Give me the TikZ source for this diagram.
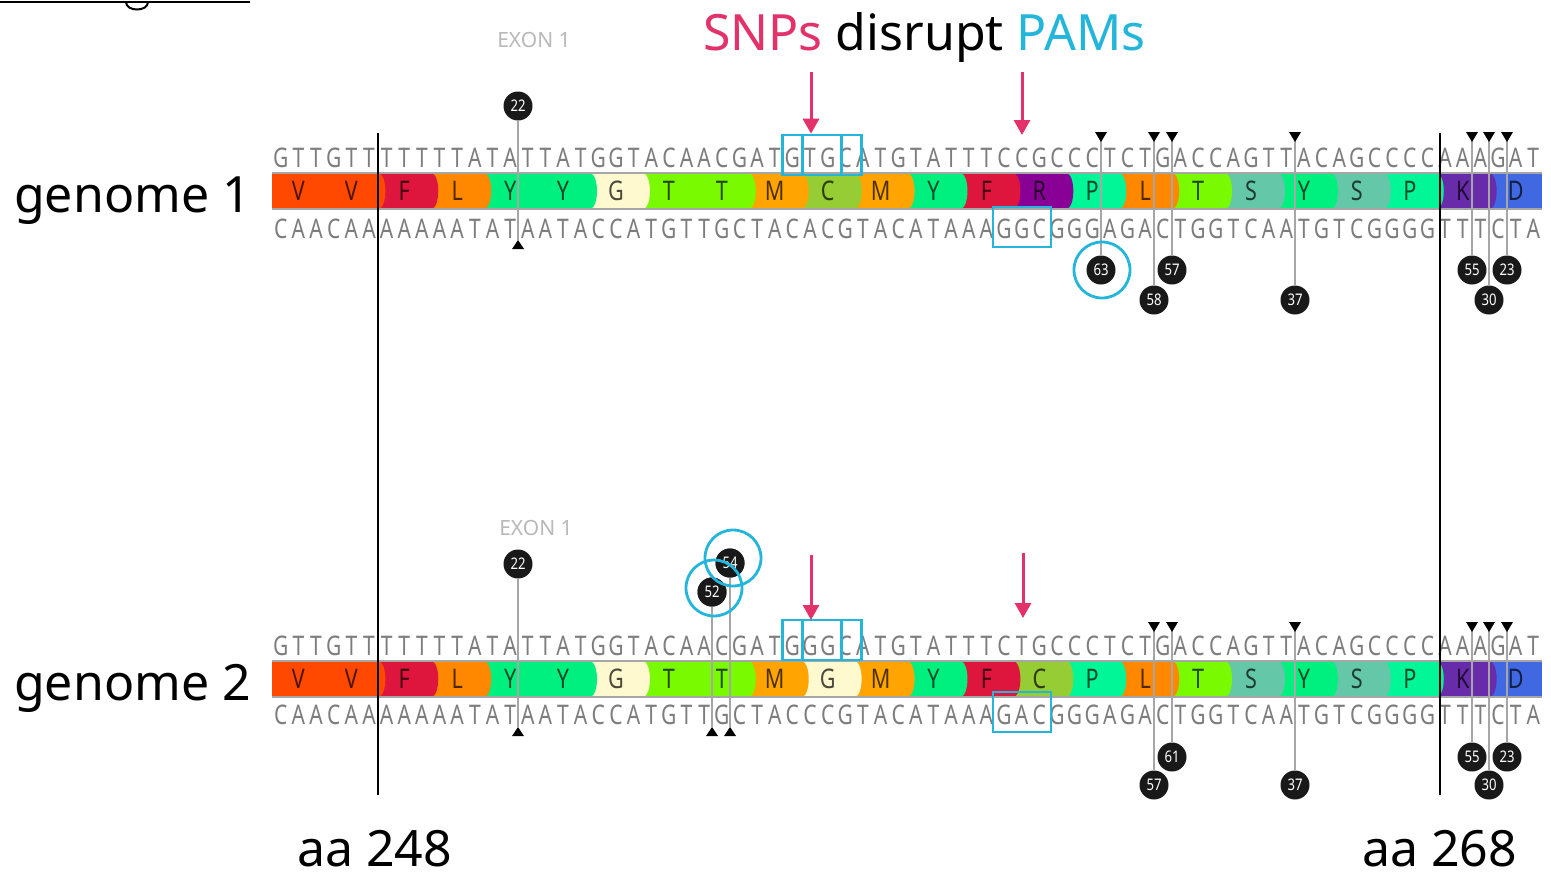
\documentclass[tikz,border=0pt]{standalone}
\usepackage{fontspec}
\setmainfont{Noto Sans}
\newfontfamily\seqfont{Noto Sans}
\usepackage{graphicx}
\usetikzlibrary{arrows.meta}

\definecolor{snpred}{RGB}{226,50,105}
\definecolor{pamcyan}{RGB}{35,182,218}
\definecolor{ntgray}{RGB}{125,125,125}
\definecolor{aaV}{RGB}{255,72,0}
\definecolor{aaF}{RGB}{222,22,62}
\definecolor{aaL}{RGB}{255,136,0}
\definecolor{aaY}{RGB}{0,240,128}
\definecolor{aaG}{RGB}{255,249,208}
\definecolor{aaT}{RGB}{122,250,0}
\definecolor{aaM}{RGB}{255,164,0}
\definecolor{aaC}{RGB}{150,204,52}
\definecolor{aaR}{RGB}{136,0,150}
\definecolor{aaP}{RGB}{0,246,150}
\definecolor{aaS}{RGB}{100,200,168}
\definecolor{aaK}{RGB}{104,44,170}
\definecolor{aaD}{RGB}{64,104,226}

\makeatletter
\newcount\seqn
\newcommand\drawseq[3]{\global\seqn=0 \def\seq@y{#1}\def\seq@p{#3}\seq@loop#2\@nil}
\def\seq@loop#1{\ifx#1\@nil\else\global\advance\seqn by 1
  \node[nt] (\seq@p\the\seqn) at ({272+(\the\seqn-0.5)*17.64},\seq@y) {\scalebox{0.78}[1]{#1}};%
  \expandafter\seq@loop\fi}
\makeatother

% #1 top y, #2 bottom y, #3 letter baseline, #4 name prefix, #5 reversed aa list
\newcommand\drawaa[5]{%
  \foreach \a [count=\i] in {#5} {
    \pgfmathsetmacro\xa{272+(24-\i)*52.92}
    \pgfmathsetmacro\xb{\xa+52.92}
    \ifnum\i=1
      \fill[aa\a] (\xa,#1) rectangle (\xb,#2);
    \else
      \fill[aa\a] (\xa,#1) -- (\xb,#1) .. controls (\xb+10,#1) and (\xb+10,#2) .. (\xb,#2) -- (\xa,#2) -- cycle;
    \fi
    \node[aal] (#4\i) at ({\xa+26.46},#3) {\scalebox{0.8}[1]{\a}};
  }
  \draw[barline] (272,#1) -- (1542,#1);
  \draw[barline] (272,#2) -- (1542,#2);
}

\begin{document}
\begin{tikzpicture}[x=1pt,y=-1pt,
  nt/.style={font=\seqfont\fontsize{27}{27}\selectfont, text=ntgray, inner sep=0pt, anchor=base},
  aal/.style={font=\seqfont\fontsize{27}{27}\selectfont, text=black, text opacity=0.7, inner sep=0pt, anchor=base},
  barline/.style={draw=gray!70, line width=1.5pt},
  big/.style={font=\fontsize{50}{54}\selectfont, inner sep=0pt, anchor=base west, text depth=0pt},
  exon/.style={font=\fontsize{21}{21}\selectfont, text=gray!55, inner sep=0pt},
  pambox/.style={draw=pamcyan, line width=2.6pt, minimum height=40pt, inner sep=0pt},
  snparrow/.style={draw=snpred, line width=3pt, -{Triangle[length=15pt, width=16pt]}},
  stem/.style={draw=gray!70, line width=1.6pt},
  lol/.style={circle, fill=black!90, text=white, minimum size=29pt, inner sep=0pt, font=\fontsize{16}{16}\selectfont\bfseries},
  ring/.style={draw=pamcyan, line width=2.8pt},
  divider/.style={draw=black, line width=2.6pt}
]
\useasboundingbox (0,0) rectangle (1551,876);
\fill[white] (0,0) rectangle (1551,876);

% cut-off heading at top left
\coordinate (hl1) at (0,2);
\coordinate (hl2) at (250,2);
\draw[line width=2pt] (hl1) -- (hl2);
\draw[line width=2pt] (126,2) .. controls (126,12) and (148,12) .. (148,2);

% title
\node[big] (title) at (703,50) {\textcolor{snpred}{SNPs} disrupt \textcolor{pamcyan}{PAMs}};

% exon labels
\node[exon] (ex1) at (534,40) {EXON 1};
\node[exon] (ex2) at (536,528) {EXON 1};

% amino-acid bars
\drawaa{173}{209}{200}{aaA}{D,K,P,S,Y,S,T,L,P,R,F,Y,M,C,M,T,T,G,Y,Y,L,F,V,V}
\drawaa{661}{697}{688}{aaB}{D,K,P,S,Y,S,T,L,P,C,F,Y,M,G,M,T,T,G,Y,Y,L,F,V,V}

% ---------- genome 1 lollipops ----------
\node[lol] (g1c22) at (518,106) {\scalebox{0.82}[1]{22}};
\coordinate (g1t22) at (518,240);
\draw[stem] (g1c22) -- (g1t22);
\fill (g1t22) -- ++(-6,9) -- ++(12,0) -- cycle;

\foreach \x/\y/\n in {1101/270/63, 1154/300/58, 1172/270/57, 1295/300/37, 1472/270/55, 1489/300/30, 1507/270/23} {
  \coordinate (g1t\n) at (\x,132);
  \node[lol] (g1c\n) at (\x,\y) {\scalebox{0.82}[1]{\n}};
  \draw[stem] (g1t\n) -- (g1c\n);
  \fill (g1t\n) ++(-6,0) -- ++(12,0) -- ++(-6,10) -- cycle;
}

% ---------- genome 2 lollipops ----------
\node[lol] (g2c22) at (518,564) {\scalebox{0.82}[1]{22}};
\coordinate (g2t22) at (518,727);
\draw[stem] (g2c22) -- (g2t22);
\fill (g2t22) -- ++(-6,9) -- ++(12,0) -- cycle;

\coordinate (g2t54) at (730,727);
\coordinate (g2t52) at (712,727);
\node[lol] (g2c54) at (730,563) {};
\node[lol] (g2c52) at (712,592) {};
\draw[stem] (g2c54) -- (g2t54);
\draw[stem] (g2c52) -- (g2t52);
\fill (g2t54) -- ++(-6,9) -- ++(12,0) -- cycle;
\fill (g2t52) -- ++(-6,9) -- ++(12,0) -- cycle;

\foreach \x/\y/\n in {1154/785/57, 1172/757/61, 1295/785/37, 1472/757/55, 1489/785/30, 1507/757/23} {
  \coordinate (g2t\n) at (\x,622);
  \node[lol] (g2c\n) at (\x,\y) {\scalebox{0.82}[1]{\n}};
  \draw[stem] (g2t\n) -- (g2c\n);
  \fill (g2t\n) ++(-6,0) -- ++(12,0) -- ++(-6,10) -- cycle;
}
% circles drawn over the stems
\node[lol] (g2n54) at (g2c54) {\scalebox{0.82}[1]{54}};
\node[lol] (g2n52) at (g2c52) {\scalebox{0.82}[1]{52}};

% sequences
\drawseq{167}{GTTGTTTTTTTATATTATGGTACAACGATGTGCATGTATTTCCGCCCTCTGACCAGTTACAGCCCCAAAGAT}{s1t}
\drawseq{238}{CAACAAAAAAATATAATACCATGTTGCTACACGTACATAAAGGCGGGAGACTGGTCAATGTCGGGGTTTCTA}{s1b}
\drawseq{655}{GTTGTTTTTTTATATTATGGTACAACGATGGGCATGTATTTCTGCCCTCTGACCAGTTACAGCCCCAAAGAT}{s2t}
\drawseq{724}{CAACAAAAAAATATAATACCATGTTGCTACCCGTACATAAAGACGGGAGACTGGTCAATGTCGGGGTTTCTA}{s2b}

% divider lines
\coordinate (d1t) at (378,133);
\coordinate (d1b) at (378,795);
\coordinate (d2t) at (1440,133);
\coordinate (d2b) at (1440,795);
\draw[divider] (d1t) -- (d1b);
\draw[divider] (d2t) -- (d2b);

% PAM boxes
\node[pambox, minimum width=59pt] (p1a) at (812,155) {};
\node[pambox, minimum width=59pt] (p1b) at (832,155) {};
\node[pambox, minimum width=58pt] (p1c) at (1022,227) {};
\node[pambox, minimum width=59pt] (p2a) at (812,640) {};
\node[pambox, minimum width=59pt] (p2b) at (832,640) {};
\node[pambox, minimum width=58pt] (p2c) at (1022,712) {};

% rings
\draw[ring] (1102,270) circle (28);
\draw[ring] (733,558) circle (28);
\draw[ring] (714,588) circle (28);

% SNP arrows
\coordinate (a1s) at (811,72);
\coordinate (a2s) at (1022,72);
\coordinate (a2e) at (1022,135);
\coordinate (a3s) at (811,555);
\coordinate (a4s) at (1023,553);
\coordinate (a3e) at (811,620);
\coordinate (a4e) at (1023,618);
\draw[snparrow] (a1s) -- (p1a.north -| a1s);
\draw[snparrow] (a2s) -- (a2e);
\draw[snparrow] (a3s) -- (a3e);
\draw[snparrow] (a4s) -- (a4e);

% labels
\node[big] (gen1) at (14,212) {genome 1};
\node[big] (gen2) at (14,700) {genome 2};
\node[big] (aa1) at (297,866) {aa 248};
\node[big] (aa2) at (1362,866) {aa 268};
\end{tikzpicture}
\end{document}
